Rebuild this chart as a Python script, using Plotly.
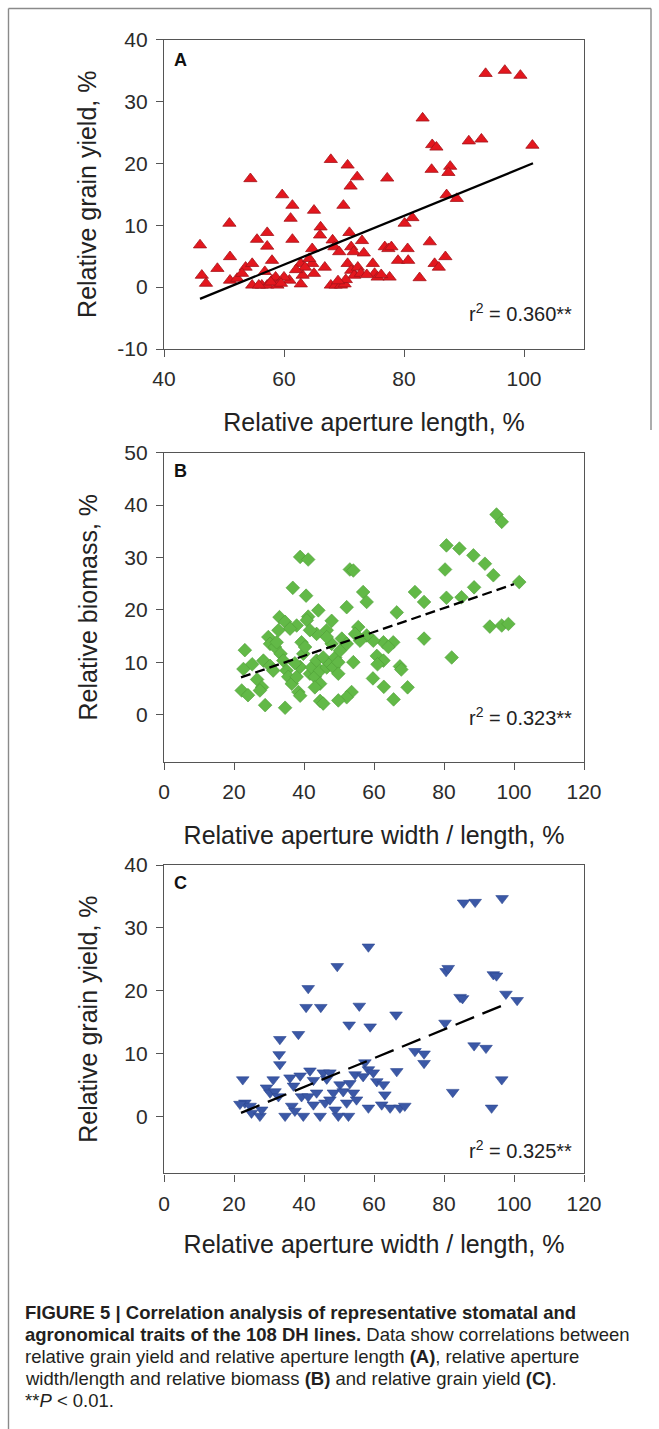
import plotly.graph_objects as go

W, H = 659, 1429

# ---------------- data ----------------
a_x = [46.0, 46.3, 47.0, 48.9, 50.9, 51.0, 51.0, 52.2, 53.6, 54.7, 54.4, 54.7, 55.5, 57.2, 57.2, 58.0,
       56.3, 57.2, 58.0, 58.6, 58.9, 59.7, 61.4, 61.1, 61.4, 60.9, 60.0, 62.8, 63.1, 62.8, 64.7, 65.0,
       64.7, 65.0, 66.1, 66.0, 66.8, 67.8, 68.1, 68.4, 69.2, 67.8, 68.6, 69.5, 70.1, 69.9, 70.6, 72.2,
       71.1, 70.9, 71.2, 71.6, 70.6, 71.2, 71.7, 72.3, 72.8, 73.0, 73.3, 74.8, 75.1, 75.6, 77.2, 76.8,
       77.4, 77.9, 77.6, 79.0, 80.1, 80.6, 80.7, 81.4, 82.6, 83.1, 84.3, 84.7, 85.4, 84.6, 85.1, 85.8,
       86.9, 87.1, 87.7, 87.4, 88.8, 90.8, 92.9, 93.6, 96.8, 99.4, 101.4,
       55.8, 57.8, 59.5, 56.8, 63.5, 64.2, 70.3, 73.8, 76.2, 69.0, 53.0, 62.0]
a_y = [6.8, 1.9, 0.6, 3.0, 10.3, 4.9, 1.1, 1.4, 3.2, 3.8, 17.5, 0.3, 7.7, 8.8, 6.6, 4.3,
       0.3, 0.3, 1.1, 1.6, 0.3, 14.9, 13.2, 11.1, 7.7, 1.1, 1.6, 3.8, 1.9, 0.5, 3.8, 12.4,
       6.2, 2.2, 9.7, 8.4, 3.2, 20.6, 7.6, 6.5, 5.7, 0.3, 0.3, 0.3, 0.5, 13.2, 19.7, 17.8,
       16.3, 8.8, 6.5, 5.7, 3.8, 2.7, 1.9, 3.2, 2.2, 7.5, 5.5, 3.8, 2.2, 1.6, 17.6, 6.5,
       6.2, 6.5, 1.6, 4.3, 10.3, 6.2, 4.3, 11.2, 1.5, 27.3, 7.3, 23.0, 22.6, 19.0, 3.8, 3.2,
       4.9, 14.9, 19.5, 18.5, 14.3, 23.6, 23.9, 34.5, 35.0, 34.2, 22.9,
       0.3, 0.8, 0.6, 2.5, 3.2, 4.6, 1.2, 2.0, 2.0, 1.0, 2.2, 2.8]
a_fit_x = [46.0, 101.5]
a_fit_y = [-1.9, 20.0]

b_x = [95.0, 96.5, 38.9, 41.2, 53.1, 54.1, 36.8, 40.6, 56.9, 57.9, 52.2, 44.1, 41.2, 33.0, 34.6, 37.9,
       36.0, 47.9, 46.5, 40.8, 43.6, 41.7, 32.7, 55.5, 66.5, 71.7, 74.3, 80.7, 84.4, 88.4, 91.7, 94.1,
       80.3, 80.7, 85.0, 88.6, 101.5, 93.1, 96.5, 98.4, 74.3, 82.2, 62.7, 65.5, 64.1, 59.8, 57.9, 56.0,
       54.6, 60.8, 62.7, 67.4, 69.6, 62.8, 59.7, 65.6, 53.6, 52.2, 49.8, 44.6, 45.5, 34.6, 28.9, 22.2,
       22.7, 23.1, 24.0, 25.2, 26.6, 28.0, 27.4, 29.8, 30.3, 31.7, 32.2, 28.4, 30.3, 31.2, 33.3, 34.1,
       35.0, 35.5, 36.5, 37.9, 38.9, 37.4, 39.8, 39.3, 40.3, 38.4, 38.9, 41.7, 42.2, 43.1, 43.6, 44.6,
       45.5, 46.5, 47.4, 48.4, 48.9, 49.8, 50.3, 47.9, 46.5, 50.8, 52.2, 54.1, 49.8, 44.6, 43.1, 61.0,
       67.8]
b_y = [38.2, 36.8, 30.1, 29.6, 27.7, 27.5, 24.2, 22.7, 23.4, 21.5, 20.5, 19.9, 18.7, 18.6, 17.7, 17.0,
       16.4, 17.9, 16.1, 18.0, 15.4, 16.1, 16.1, 16.7, 19.5, 23.4, 21.5, 32.3, 31.7, 30.4, 28.8, 26.6,
       27.7, 22.3, 22.4, 24.3, 25.3, 16.8, 17.0, 17.3, 14.5, 10.9, 13.8, 13.8, 12.9, 14.1, 15.1, 14.1,
       15.4, 11.2, 10.3, 9.2, 5.2, 5.3, 6.9, 2.9, 4.3, 3.3, 2.7, 2.6, 2.1, 1.3, 1.8, 4.6,
       8.7, 12.3, 3.7, 9.6, 6.7, 5.2, 4.6, 14.8, 13.5, 12.9, 13.8, 10.3, 9.3, 8.4, 11.6, 10.3,
       8.4, 7.2, 5.9, 7.2, 9.1, 9.8, 11.6, 13.8, 12.9, 4.3, 3.6, 7.8, 9.0, 7.2, 10.3, 8.4,
       10.9, 9.0, 9.7, 9.0, 10.9, 10.0, 12.2, 13.5, 14.8, 14.5, 13.5, 10.0, 7.8, 5.9, 5.2, 9.6,
       8.6]
b_fit_x = [22.0, 100.0]
b_fit_y = [7.1, 24.9]

c_x = [85.6, 88.9, 96.6, 58.4, 49.5, 41.2, 40.6, 44.8, 55.8, 66.3, 52.9, 58.9, 80.6, 81.2, 94.1, 95.0,
       84.6, 85.3, 97.7, 100.9, 80.3, 88.6, 92.0, 71.7, 74.3, 74.3, 96.5, 82.5, 93.6, 33.1, 38.4, 32.9,
       33.1, 22.5, 66.5, 57.4,
       23.1, 24.6, 25.0, 27.4, 27.9, 29.3, 30.3, 31.7, 32.7, 34.6, 36.0, 37.0, 36.5, 37.4, 38.9, 39.3,
       39.8, 41.7, 42.7, 41.2, 42.7, 43.6, 44.6, 45.5, 46.5, 47.4, 46.0, 47.4, 48.9, 49.8, 48.4, 50.3,
       51.2, 52.2, 53.1, 54.6, 54.1, 55.0, 52.7, 56.9, 58.4, 59.8, 60.8, 58.4, 62.7, 63.1, 62.2, 64.6,
       67.4, 68.8, 31.2, 21.7]
c_y = [34.0, 34.1, 34.7, 27.0, 23.9, 20.4, 17.4, 17.4, 17.6, 16.2, 14.6, 14.3, 23.1, 23.6, 22.6, 22.4,
       19.0, 18.8, 19.5, 18.5, 14.9, 11.3, 10.9, 10.4, 10.0, 8.5, 5.9, 3.9, 1.4, 12.3, 13.1, 9.9,
       8.3, 5.9, 7.2, 8.6,
       2.2, 1.7, 0.6, 0.1, 1.1, 4.6, 3.8, 4.0, 3.2, 0.1, 6.2, 4.9, 1.7, 0.9, 6.5, 3.2,
       0.1, 7.3, 5.8, 3.2, 1.9, 3.8, 0.1, 7.0, 6.0, 7.0, 2.2, 2.7, 1.1, 0.1, 3.8, 5.1,
       4.0, 2.2, 5.3, 6.7, 3.8, 2.7, 0.1, 6.4, 7.5, 7.0, 5.6, 1.4, 5.1, 3.5, 1.9, 1.4,
       1.4, 1.7, 5.9, 2.0]
c_fit_x = [22.0, 98.1]
c_fit_y = [0.6, 18.0]

a_xticks = [40, 60, 80, 100]
a_yticks = [-10, 0, 10, 20, 30, 40]
a_yticktext = ["-10", "0", "10", "20", "30", "40"]
bc_xticks = [0, 20, 40, 60, 80, 100, 120]
b_yticks = [0, 10, 20, 30, 40, 50]
c_yticks = [0, 10, 20, 30, 40]

a_xtitle = "Relative aperture length, %"
a_ytitle = "Relative grain yield, %"
b_xtitle = "Relative aperture width / length, %"
b_ytitle = "Relative biomass, %"
c_xtitle = "Relative aperture width / length, %"
c_ytitle = "Relative grain yield, %"

r2_labels = ["r<sup>2</sup> = 0.360**", "r<sup>2</sup> = 0.323**", "r<sup>2</sup> = 0.325**"]
panel_labels = ["A", "B", "C"]

caption_lines = [
    "<b>FIGURE 5 | Correlation analysis of representative stomatal and</b>",
    "<b>agronomical traits of the 108 DH lines.</b> Data show correlations between",
    "relative grain yield and relative aperture length <b>(A)</b>, relative aperture",
    "width/length and relative biomass <b>(B)</b> and relative grain yield <b>(C)</b>.",
    "**<i>P</i> &lt; 0.01.",
]

# ---------------- helpers ----------------
FONT = "Liberation Sans, Arial, sans-serif"


def px(x):
    return x / W


def py(y):
    return 1 - y / H


fig = go.Figure()

red = "#e3171e"
green = "#62b947"
blue = "#3b58a6"

fig.add_trace(go.Scatter(x=a_x, y=a_y, mode="markers", xaxis="x", yaxis="y",
                         marker=dict(symbol="triangle-up", size=11.5, color=red,
                                     line=dict(color="#a5141a", width=0.8)),
                         showlegend=False))
fig.add_trace(go.Scatter(x=a_fit_x, y=a_fit_y, mode="lines", xaxis="x", yaxis="y",
                         line=dict(color="black", width=2.3), showlegend=False))

fig.add_trace(go.Scatter(x=b_x, y=b_y, mode="markers", xaxis="x2", yaxis="y2",
                         marker=dict(symbol="diamond", size=10.5, color=green,
                                     line=dict(color="#4f9e38", width=0.6)),
                         showlegend=False))
fig.add_trace(go.Scatter(x=b_fit_x, y=b_fit_y, mode="lines", xaxis="x2", yaxis="y2",
                         line=dict(color="black", width=2.3, dash="10px,5px"), showlegend=False))

fig.add_trace(go.Scatter(x=c_x, y=c_y, mode="markers", xaxis="x3", yaxis="y3",
                         marker=dict(symbol="triangle-down", size=11, color=blue,
                                     line=dict(color="#2b4690", width=0.6)),
                         showlegend=False))
fig.add_trace(go.Scatter(x=c_fit_x, y=c_fit_y, mode="lines", xaxis="x3", yaxis="y3",
                         line=dict(color="black", width=2.3, dash="20px,9px"), showlegend=False))

xdom = [px(164), px(584)]
dom_a = [py(349), py(39.5)]
dom_b = [py(761.7), py(452.7)]
dom_c = [py(1173.3), py(865)]

axis_common = dict(showline=True, linecolor="#555555", linewidth=1.4, mirror=True,
                   ticks="outside", ticklen=7, tickwidth=1.2, tickcolor="#555555",
                   ticklabelstandoff=4,
                   showgrid=False, zeroline=False, automargin=False,
                   tickfont=dict(family=FONT, size=21, color="#2b2b2b"))
title_font = dict(family=FONT, size=25, color="#222222")


def ttl(text, standoff):
    return dict(text=text, font=title_font, standoff=standoff)


fig.update_layout(
    width=W, height=H,
    margin=dict(l=0, r=0, t=0, b=0),
    paper_bgcolor="white", plot_bgcolor="white",
    xaxis=dict(domain=xdom, anchor="y", range=[40, 110], tickvals=a_xticks,
               title=ttl(a_xtitle, 24), **axis_common),
    yaxis=dict(domain=dom_a, anchor="x", range=[-10, 40], tickvals=a_yticks,
               ticktext=a_yticktext, title=ttl(a_ytitle, 13), **axis_common),
    xaxis2=dict(domain=xdom, anchor="y2", range=[0, 120], tickvals=bc_xticks,
                title=ttl(b_xtitle, 24), **axis_common),
    yaxis2=dict(domain=dom_b, anchor="x2", range=[-9, 50], tickvals=b_yticks,
                title=ttl(b_ytitle, 19), **axis_common),
    xaxis3=dict(domain=xdom, anchor="y3", range=[0, 120], tickvals=bc_xticks,
                title=ttl(c_xtitle, 21), **axis_common),
    yaxis3=dict(domain=dom_c, anchor="x3", range=[-9, 40], tickvals=c_yticks,
                title=ttl(c_ytitle, 19), **axis_common),
)

ann = []
# panel letters
for lab, yy in zip(panel_labels, [60, 471, 883]):
    ann.append(dict(text="<b>%s</b>" % lab, x=px(172), y=py(yy), xref="paper", yref="paper",
                    showarrow=False, xanchor="left", yanchor="middle",
                    font=dict(family=FONT, size=18, color="#111111")))

# r2 labels
for lab, yy in zip(r2_labels, [312, 716, 1149]):
    ann.append(dict(text=lab, x=px(574), y=py(yy), xref="paper", yref="paper",
                    showarrow=False, xanchor="right", yanchor="middle",
                    font=dict(family=FONT, size=20, color="#222222")))

# caption
for i, line in enumerate(caption_lines):
    ann.append(dict(text=line, x=px(23), y=py(1312 + i * 22), xref="paper", yref="paper",
                    showarrow=False, xanchor="left", yanchor="middle",
                    font=dict(family=FONT, size=18.5, color="#231f20")))

fig.update_layout(annotations=ann)

# figure frame
frame = dict(type="line", xref="paper", yref="paper", line=dict(color="#8a8a8a", width=1.4))
fig.update_layout(shapes=[
    dict(frame, x0=px(8.5), x1=px(8.5), y0=py(8.5), y1=py(1429)),
    dict(frame, x0=px(8.5), x1=px(651), y0=py(8.5), y1=py(8.5)),
    dict(frame, x0=px(651), x1=px(651), y0=py(8.5), y1=py(430)),
])

fig.write_html("out.html")
